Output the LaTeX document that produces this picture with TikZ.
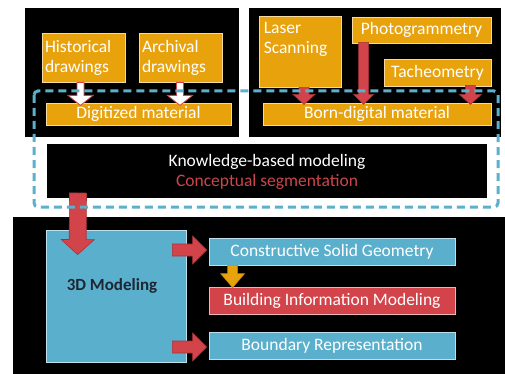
\documentclass[tikz,border=0pt]{standalone}
\usepackage{fontspec}
\setmainfont{Carlito}
\usetikzlibrary{calc}
\definecolor{cOrange}{HTML}{E8A20C}
\definecolor{cBlue}{HTML}{5AB0CC}
\definecolor{cRed}{HTML}{D2434A}
\definecolor{cRedDark}{HTML}{A8323A}
\definecolor{cDash}{HTML}{5CB0CB}
\definecolor{cText}{HTML}{1E2633}
\definecolor{cSeg}{HTML}{C9464C}
\newcommand\fatarrow[6]{%
  \coordinate (fa@h) at ($(#3)!#6!(#2)$);
  \draw[#1] ($(#2)!#4!90:(#3)$) -- ($(fa@h)!#4!90:(#3)$) -- ($(fa@h)!#5!90:(#3)$) -- (#3)
    -- ($(fa@h)!#5!-90:(#3)$) -- ($(fa@h)!#4!-90:(#3)$) -- ($(#2)!#4!-90:(#3)$) -- cycle;}
\tikzset{
  txt/.style={font=\fontsize{17.5}{20}\selectfont},
  panel/.style={fill=black, draw=none},
  obox/.style={fill=cOrange, draw=cOrange!40!white, line width=0.8pt, text=white, inner sep=0pt, txt},
  bbox/.style={fill=cBlue, draw=cBlue!40!white, line width=0.8pt, text=white, inner sep=0pt, txt},
  rbox/.style={fill=cRed, draw=cRed!40!white, line width=0.8pt, text=white, inner sep=0pt, txt},
  whitearrow/.style={fill=white, draw=cRed, line width=0.8pt},
  redarrow/.style={fill=cRed, draw=cRedDark, line width=0.6pt},
  yelarrow/.style={fill=cOrange, draw=cOrange!80!black, line width=0.6pt},
  dashframe/.style={draw=cDash, line width=3pt, dash pattern=on 8pt off 5pt, rounded corners=4pt},
}
\begin{document}
\begin{tikzpicture}[x=1pt,y=-1pt]
\useasboundingbox[fill=white] (0,0) rectangle (505,374);
% black panels
\path[panel] (25,8) rectangle (239,137);
\path[panel] (249,8) rectangle (501,137);
\path[panel] (47,144) rectangle (487,198);
\path[panel] (13,217) rectangle (505,374);
% top-left
\node[obox, minimum width=83pt, minimum height=49pt, text width=77pt, align=left] (hist) at (83.5,57.5) {Historical\\drawings};
\node[obox, minimum width=83pt, minimum height=49pt, text width=77pt, align=left] (arch) at (180.5,57.5) {Archival\\drawings};
\node[obox, minimum width=185pt, minimum height=22pt] (dig) at (138.5,114) {Digitized material};
% top-right
\node[obox, minimum width=82pt, minimum height=71pt] (laser) at (300,51.5) {};
\node[text=white, anchor=north west, align=left, inner sep=0pt, txt] (lasertxt) at ($(laser.north west)+(5,6)$) {Laser\\Scanning};
\node[obox, minimum width=139pt, minimum height=26pt] (photo) at (421.5,30) {Photogrammetry};
\node[obox, minimum width=107pt, minimum height=27pt] (tach) at (437.5,72.5) {Tacheometry};
\node[obox, minimum width=228pt, minimum height=22pt] (born) at (377,114) {Born-digital material};
% knowledge
\node[text=white, txt, inner sep=0pt] (know) at (267,162) {Knowledge-based modeling};
\node[text=cSeg, txt, inner sep=0pt] (seg) at (267,182) {Conceptual segmentation};
\coordinate (kbox) at (78,193);
% bottom
\node[bbox, minimum width=140pt, minimum height=132pt] (m3d) at (116,296) {};
\node[text=cText, font=\bfseries\fontsize{17}{20}\selectfont, inner sep=0pt] (m3dtxt) at (112,286) {3D Modeling};
\node[bbox, minimum width=246pt, minimum height=27pt] (csg) at (332,251.5) {Constructive Solid Geometry};
\node[rbox, minimum width=246pt, minimum height=27pt] (bim) at (332,300.5) {Building Information Modeling};
\node[bbox, minimum width=246pt, minimum height=27pt] (brep) at (332,345.5) {Boundary Representation};
% arrow endpoints
\coordinate (a1s) at ($(hist.south)+(-3,0)$);
\coordinate (a1e) at ($(a1s)+(0,23)$);
\coordinate (a2s) at ($(arch.south)+(-0.5,0)$);
\coordinate (a2e) at ($(a2s)+(0,23)$);
\coordinate (a3s) at ($(laser.south)+(4,0)$);
\coordinate (a3e) at ($(a3s)+(0,17)$);
\coordinate (a4s) at ($(photo.south west)+(12,-1)$);
\coordinate (a4e) at ($(a4s)+(0,62)$);
\coordinate (a5s) at ($(tach.south east)+(-21,-1)$);
\coordinate (a5e) at ($(a5s)+(0,19)$);
\coordinate (a6e) at ($(m3d.north west)+(32,25)$);
\coordinate (a7s) at ($(m3d.east)+(-14,-46)$);
\coordinate (a7e) at ($(csg.west)+(-2,-1.5)$);
\coordinate (a8s) at ($(m3d.east)+(-14,51)$);
\coordinate (a8e) at ($(brep.west)+(-2,1.5)$);
\coordinate (a9s) at ($(csg.south west)+(24,0)$);
\coordinate (a9e) at ($(bim.north west)+(24,1)$);
% arrows
\fatarrow{whitearrow}{a1s}{a1e}{3.5pt}{12.5pt}{10pt}
\fatarrow{whitearrow}{a2s}{a2e}{3.5pt}{12.5pt}{10pt}
\fatarrow{redarrow}{a3s}{a3e}{5pt}{11pt}{10pt}
\fatarrow{redarrow}{a4s}{a4e}{5pt}{10pt}{10pt}
\fatarrow{redarrow}{a5s}{a5e}{5pt}{11pt}{10pt}
\fatarrow{redarrow}{kbox}{a6e}{8.5pt}{16.5pt}{15pt}
\fatarrow{redarrow}{a7s}{a7e}{6pt}{14pt}{14pt}
\fatarrow{redarrow}{a8s}{a8e}{6pt}{14pt}{14pt}
\fatarrow{yelarrow}{a9s}{a9e}{5pt}{12pt}{14pt}
% dashed frame
\draw[dashframe] (34,91) rectangle (498,207);
\end{tikzpicture}
\end{document}
